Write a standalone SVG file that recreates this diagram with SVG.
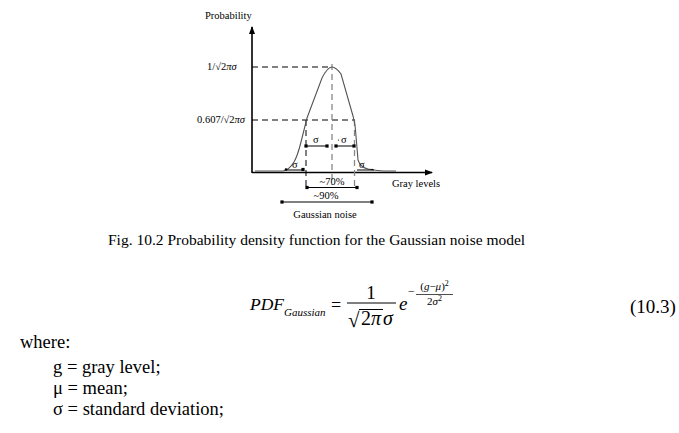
<svg xmlns="http://www.w3.org/2000/svg" width="679" height="433" viewBox="0 0 679 433">
<style>
.t{font-family:"Liberation Serif","Times New Roman",serif;fill:#000}
.s{font-size:10.5px}
.ax{stroke:#000;stroke-width:1.6;fill:none}
.d{stroke:#000;stroke-width:1;stroke-dasharray:6,4;fill:none}
.dg{stroke:#888;stroke-width:1.3;stroke-dasharray:6,4;fill:none}
.b{stroke:#000;stroke-width:1;fill:none}
.i{font-style:italic}
</style>
<defs>
<marker id="arr" markerWidth="8" markerHeight="8" refX="7" refY="4" orient="auto" markerUnits="userSpaceOnUse">
<path d="M0,1 L8,4 L0,7 Z" fill="#000"/>
</marker>
<g id="sq"><rect x="-1.6" y="-1.6" width="3.2" height="3.2" fill="#000"/></g>
</defs>
<rect width="679" height="433" fill="#fff"/>

<g id="axes">
<line class="ax" x1="252" y1="173" x2="252" y2="27" marker-end="url(#arr)"/>
<line class="ax" x1="252" y1="172.5" x2="432" y2="172.5" marker-end="url(#arr)"/>
<text class="t s" x="205" y="19">Probability</text>
<text class="t s" x="392" y="187">Gray levels</text>
<text class="t s" x="207" y="70">1/√2<tspan class="i">πσ</tspan></text>
<text class="t s" x="197" y="123">0.607/√2<tspan class="i">πσ</tspan></text>
</g>

<g id="guides">
<line class="d" x1="252" y1="67" x2="332" y2="67"/>
<line class="d" x1="252" y1="120" x2="355" y2="120"/>
<line class="dg" x1="332" y1="64" x2="332" y2="185"/>
<line class="d" x1="306" y1="120" x2="306" y2="186"/>
<line class="dg" x1="354.5" y1="120" x2="354.5" y2="186" stroke="#666"/>
</g>

<g id="curve">
<path d="M255,171 L283,171 C288,170 291,167 294,162 C297,157 299,150 301,142 L307,118 L322,78 C326,70 329,67 332,67 C335,67 338,70 341,74 L353,116 L355,125 C356,135 357,148 358,160 C360,166 363,168 368,169 C373,170 377,171 384,171 L396,171" fill="none" stroke="#555" stroke-width="1.1"/>
</g>

<g id="sigma-marks">
<line class="b" x1="306" y1="146" x2="327" y2="146"/>
<use href="#sq" x="306" y="146"/><use href="#sq" x="327" y="146"/>
<text class="t s" x="313" y="143">σ</text>
<line class="b" x1="336" y1="146" x2="354" y2="146"/>
<use href="#sq" x="336" y="146"/><use href="#sq" x="354" y="146"/>
<text class="t s" x="341" y="143">σ</text>
<circle cx="338.5" cy="140" r="0.6" fill="#000"/>
<line class="b" x1="286" y1="170" x2="303" y2="170"/>
<circle cx="286" cy="169.5" r="1.3" fill="#000"/>
<use href="#sq" x="303" y="169.5"/>
<text class="t s" x="292" y="168">σ</text>
<line class="b" x1="357" y1="170" x2="374" y2="170"/>
<text class="t s" x="359" y="168">σ</text>
<circle cx="372" cy="169.5" r="0.8" fill="#000"/>
</g>

<g id="ranges">
<line class="b" x1="307" y1="187.5" x2="357" y2="187.5"/>
<use href="#sq" x="307" y="187.5"/><use href="#sq" x="357" y="187.5"/>
<text class="t s" x="332" y="185" text-anchor="middle">~70%</text>
<line class="b" x1="282" y1="202" x2="372" y2="202"/>
<use href="#sq" x="282" y="202"/><use href="#sq" x="372" y="202"/>
<text class="t s" x="326" y="199" text-anchor="middle">~90%</text>
<text class="t s" x="325" y="218" text-anchor="middle">Gaussian noise</text>
</g>

<text class="t" x="108" y="245" font-size="15.5">Fig. 10.2 Probability density function for the Gaussian noise model</text>

<g id="formula">
<text class="t i" x="250" y="310" font-size="17.5">PDF</text>
<text class="t i" x="284" y="315.5" font-size="11">Gaussian</text>
<text class="t" x="331" y="311" font-size="18">=</text>
<line x1="347" y1="303" x2="396" y2="303" stroke="#000" stroke-width="1"/>
<text class="t" x="371" y="298.5" font-size="19" text-anchor="middle">1</text>
<text class="t" x="348" y="327" font-size="21">√</text>
<line x1="359" y1="309.5" x2="383" y2="309.5" stroke="#000" stroke-width="1"/>
<text class="t" x="361" y="325" font-size="20">2<tspan class="i">π</tspan></text>
<text class="t i" x="383" y="325" font-size="20">σ</text>
<text class="t i" x="399" y="310" font-size="19">e</text>
<text class="t" x="408" y="295" font-size="12">−</text>
<line x1="416" y1="294.5" x2="453" y2="294.5" stroke="#000" stroke-width="0.7"/>
<text class="t" x="434.5" y="290" font-size="11" text-anchor="middle">(<tspan class="i">g</tspan>−<tspan class="i">μ</tspan>)<tspan dy="-4" font-size="8">2</tspan></text>
<text class="t" x="434.5" y="305" font-size="11" text-anchor="middle">2<tspan class="i">σ</tspan><tspan dy="-4" font-size="8">2</tspan></text>
<text class="t" x="630" y="313" font-size="19">(10.3)</text>
</g>

<g id="legend">
<text class="t" x="20" y="348" font-size="18.5">where:</text>
<text class="t" x="53" y="373" font-size="18.5">g = gray level;</text>
<text class="t" x="53" y="394" font-size="18.5">μ = mean;</text>
<text class="t" x="53" y="415" font-size="18.5">σ = standard deviation;</text>
</g>
</svg>
